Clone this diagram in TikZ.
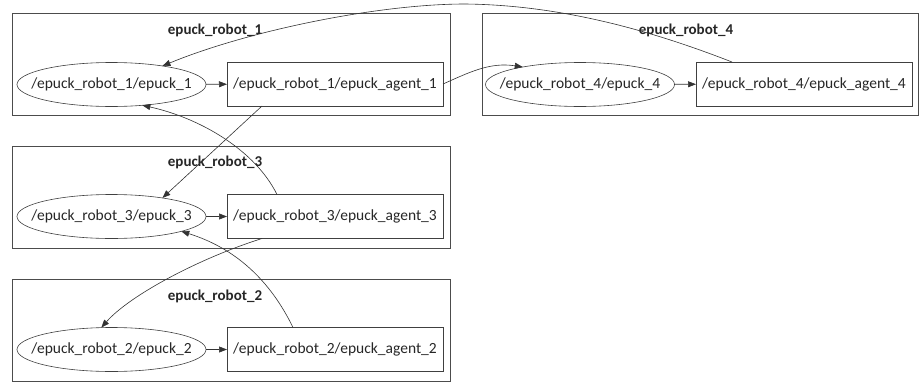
\documentclass[tikz,border=0pt]{standalone}
\usepackage{fontspec}
\setmainfont{Carlito}
\usetikzlibrary{arrows.meta,shapes.geometric}
\begin{document}
\begin{tikzpicture}[x=1pt,y=-1pt,
  every node/.style={font=\fontsize{15.5}{17}\selectfont, text=black!85},
  cluster/.style={draw=black!70, line width=0.7pt, rectangle, inner sep=0pt, outer sep=0pt, minimum height=102pt},
  topic/.style={ellipse, draw=black!75, line width=0.6pt, minimum width=189pt, minimum height=44pt, inner xsep=-30pt, inner ysep=0pt, outer sep=0pt},
  agent/.style={rectangle, draw=black!75, line width=0.6pt, minimum width=216pt, minimum height=44pt, inner sep=0pt, outer sep=0pt},
  title/.style={font=\fontsize{15}{17}\selectfont\bfseries},
  edge/.style={draw=black!80, line width=0.6pt, -{Triangle[length=8pt,width=6pt]}}
]
\useasboundingbox (0,0) rectangle (919,383);
% clusters
\node[cluster, minimum width=438pt] (c1) at (231,64) {};
\node[cluster, minimum width=436pt] (c4) at (700,64) {};
\node[cluster, minimum width=438pt] (c3) at (231,197) {};
\node[cluster, minimum width=438pt] (c2) at (231,330) {};
\node[title] (t1) at (215,30) {epuck\_robot\_1};
\node[title] (t4) at (686,30) {epuck\_robot\_4};
\node[title] (t3) at (215,162) {epuck\_robot\_3};
\node[title] (t2) at (215,296) {epuck\_robot\_2};
% nodes
\node[topic] (e1) at (111.5,84.5) {/epuck\_robot\_1/epuck\_1};
\node[agent] (b1) at (335,84) {/epuck\_robot\_1/epuck\_agent\_1};
\node[topic] (e4) at (580,84.5) {/epuck\_robot\_4/epuck\_4};
\node[agent] (b4) at (804,84) {/epuck\_robot\_4/epuck\_agent\_4};
\node[topic] (e3) at (111.5,216.5) {/epuck\_robot\_3/epuck\_3};
\node[agent] (b3) at (335,216.5) {/epuck\_robot\_3/epuck\_agent\_3};
\node[topic] (e2) at (111.5,349.5) {/epuck\_robot\_2/epuck\_2};
\node[agent] (b2) at (335,349.5) {/epuck\_robot\_2/epuck\_agent\_2};
% edges
\draw[edge] (e1) -- (b1);
\draw[edge] (e4) -- (b4);
\draw[edge] (e3) -- (b3);
\draw[edge] (e2) -- (b2);
\draw[edge] (b1.east) .. controls (470,72) and (490,62) .. (e4.163);
\draw[edge] ([xshift=36pt]b4.north west) .. controls (650,30) and (560,5) .. (465,4) .. controls (380,4) and (250,30) .. (e1.20);
\draw[edge] ([xshift=35pt]b1.south west) -- (e3.20);
\draw[edge] ([xshift=50pt]b3.north west) .. controls (255,150) and (200,118) .. (e1.-34);
\draw[edge] ([xshift=35pt]b3.south west) .. controls (200,258) and (130,295) .. (e2.115);
\draw[edge] ([xshift=66pt]b2.north west) .. controls (270,280) and (235,248) .. (e3.-12);
\end{tikzpicture}
\end{document}
